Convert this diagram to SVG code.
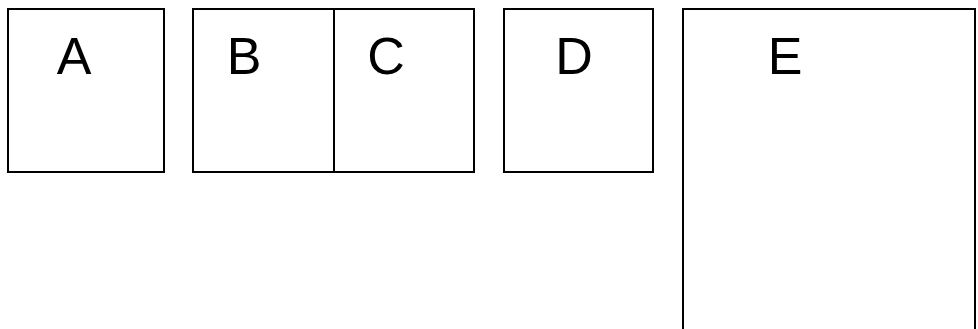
<svg xmlns="http://www.w3.org/2000/svg" width="978" height="329" viewBox="0 0 978 329">
<style>
.box{fill:#fff;stroke:#000;stroke-width:2}
.lbl{font-family:"Liberation Sans",Arial,sans-serif;font-size:52px;fill:#000;text-anchor:middle}
</style>
<rect width="978" height="329" fill="#fff"/>
<g id="A"><rect class="box" x="8" y="9" width="156" height="163"/><text class="lbl" x="74" y="74">A</text></g>
<g id="B"><rect class="box" x="193" y="9" width="141" height="163"/><text class="lbl" x="244" y="74">B</text></g>
<g id="C"><rect class="box" x="334" y="9" width="140" height="163"/><text class="lbl" x="386" y="74">C</text></g>
<g id="D"><rect class="box" x="504" y="9" width="149" height="163"/><text class="lbl" x="574" y="74">D</text></g>
<g id="E"><rect class="box" x="683" y="9" width="292" height="340"/><text class="lbl" x="785" y="74">E</text></g>
<g id="connectors"></g>
</svg>
